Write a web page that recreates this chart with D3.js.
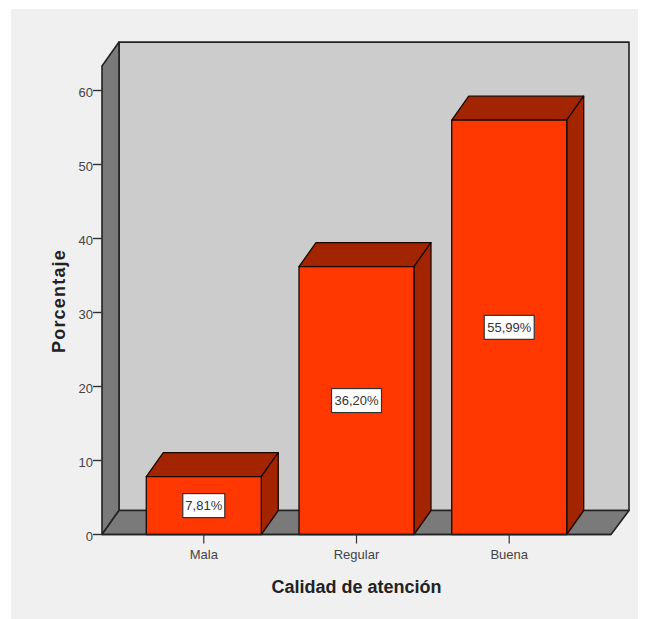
<!DOCTYPE html>
<html>
<head>
<meta charset="utf-8">
<script src="https://cdn.jsdelivr.net/npm/d3@7"></script>
<style>
html, body { margin: 0; padding: 0; background: #fff; }
svg { display: block; }
text { font-family: "Liberation Sans", Arial, sans-serif; }
</style>
</head>
<body>
<div id="chart"></div>
<script>
// values
var categories = ["Mala", "Regular", "Buena"];
var percentages = [7.81, 36.20, 55.99];
var valueLabels = ["7,81%", "36,20%", "55,99%"];
var yTicks = [0, 10, 20, 30, 40, 50, 60];

var width = 651, height = 619;
var depth = {x: 17, y: -24}; // 3D offset of the back wall

var xScale = d3.scaleBand()
    .domain(categories)
    .range([102, 611])
    .paddingInner(0.247)
    .paddingOuter(0.29);

var yScale = d3.scaleLinear()
    .domain([0, 60])
    .range([534.5, 90.5]);

var svg = d3.select("#chart").append("svg")
    .attr("width", width)
    .attr("height", height);

// light panel behind the chart
svg.append("rect")
    .attr("x", 11).attr("y", 9)
    .attr("width", 627).attr("height", 611)
    .attr("fill", "#f0f0f0");

var x0 = xScale.range()[0], x1 = xScale.range()[1];
var y0 = yScale(0), yTop = yScale(63.3); // wall height runs past the last tick

function poly(points) {
    return "M" + points.map(function(p) { return p.join(","); }).join("L") + "Z";
}

var walls = svg.append("g")
    .attr("stroke", "#222")
    .attr("stroke-width", 1.6)
    .attr("stroke-linejoin", "round");

// back wall
walls.append("path")
    .attr("d", poly([[x0 + depth.x, yTop + depth.y], [x1 + depth.x + 1, yTop + depth.y], [x1 + depth.x + 1, y0 + depth.y], [x0 + depth.x, y0 + depth.y]]))
    .attr("fill", "#cccccc");

// left wall
walls.append("path")
    .attr("d", poly([[x0, yTop], [x0 + depth.x, yTop + depth.y], [x0 + depth.x, y0 + depth.y], [x0, y0]]))
    .attr("fill", "#7a7a7a");

// floor
walls.append("path")
    .attr("d", poly([[x0, y0], [x0 + depth.x, y0 + depth.y], [x1 + depth.x + 1, y0 + depth.y], [x1, y0]]))
    .attr("fill", "#7a7a7a");

// bars
var bars = svg.selectAll(".bar")
    .data(categories)
    .enter().append("g")
    .attr("class", "bar")
    .attr("stroke", "#1a0800")
    .attr("stroke-width", 1.3)
    .attr("stroke-linejoin", "round");

bars.append("path") // top face
    .attr("d", function(d, i) {
        var l = xScale(d), r = l + xScale.bandwidth(), t = yScale(percentages[i]);
        return poly([[l, t], [l + depth.x, t + depth.y], [r + depth.x, t + depth.y], [r, t]]);
    })
    .attr("fill", "#a32400");

bars.append("path") // side face
    .attr("d", function(d, i) {
        var r = xScale(d) + xScale.bandwidth(), t = yScale(percentages[i]);
        return poly([[r, t], [r + depth.x, t + depth.y], [r + depth.x, y0 + depth.y], [r, y0]]);
    })
    .attr("fill", "#a32400");

bars.append("rect") // front face
    .attr("x", function(d) { return xScale(d); })
    .attr("y", function(d, i) { return yScale(percentages[i]); })
    .attr("width", xScale.bandwidth())
    .attr("height", function(d, i) { return y0 - yScale(percentages[i]); })
    .attr("fill", "#ff3700");

// value labels
var labels = svg.selectAll(".value-label")
    .data(categories)
    .enter().append("g")
    .attr("class", "value-label")
    .attr("transform", function(d, i) {
        return "translate(" + (xScale(d) + xScale.bandwidth() / 2) + "," + yScale(percentages[i] / 2) + ")";
    });

labels.append("rect")
    .attr("x", function(d, i) { return i === 0 ? -21 : -25; })
    .attr("y", -12)
    .attr("width", function(d, i) { return i === 0 ? 42 : 50; })
    .attr("height", 24)
    .attr("fill", "#fff")
    .attr("stroke", "#333")
    .attr("stroke-width", 1.2);

labels.append("text")
    .attr("text-anchor", "middle")
    .attr("dy", "0.36em")
    .attr("font-size", 13)
    .attr("fill", "#333")
    .text(function(d, i) { return valueLabels[i]; });

// y axis
var yAxis = svg.append("g")
    .attr("class", "y axis")
    .attr("transform", "translate(" + x0 + ",0)")
    .call(d3.axisLeft(yScale).tickValues(yTicks).tickFormat(d3.format("d")).tickSize(9).tickPadding(0).offset(0));
yAxis.select(".domain").remove();
yAxis.selectAll("line").attr("stroke", "#333").attr("stroke-width", 1.4);
yAxis.selectAll("text").attr("font-size", 13).attr("fill", "#444").attr("font-family", null).attr("y", 2);

// x axis
var xAxis = svg.append("g")
    .attr("class", "x axis")
    .attr("transform", "translate(0," + y0 + ")")
    .call(d3.axisBottom(xScale).tickSizeInner(9).tickSizeOuter(0).tickPadding(6).offset(0));
xAxis.select(".domain").attr("stroke", "#222").attr("stroke-width", 1.6);
xAxis.selectAll("line").attr("stroke", "#333").attr("stroke-width", 1.2);
xAxis.selectAll("text").attr("font-size", 13).attr("fill", "#444").attr("font-family", null);

// axis titles
svg.append("text")
    .attr("x", 356.5).attr("y", 593)
    .attr("text-anchor", "middle")
    .attr("font-size", 18)
    .attr("font-weight", "bold")
    .attr("fill", "#222")
    .text("Calidad de atención");

svg.append("text")
    .attr("transform", "translate(65,301) rotate(-90)")
    .attr("text-anchor", "middle")
    .attr("font-size", 18)
    .attr("letter-spacing", 1.2)
    .attr("font-weight", "bold")
    .attr("fill", "#222")
    .text("Porcentaje");
</script>
</body>
</html>
